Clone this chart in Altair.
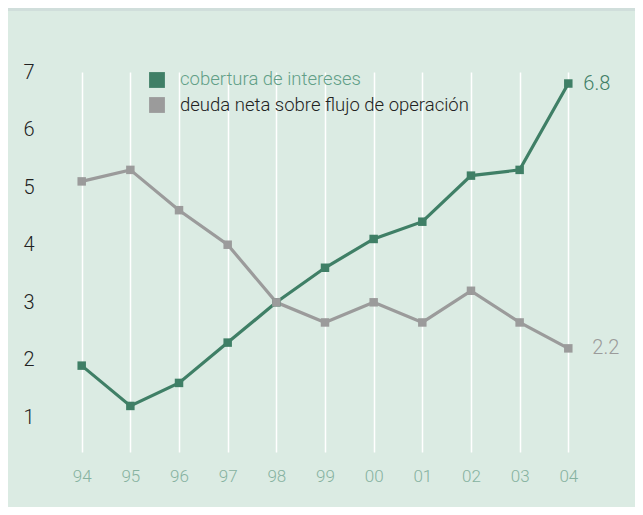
import altair as alt
import pandas as pd

years = ["94", "95", "96", "97", "98", "99", "00", "01", "02", "03", "04"]
cobertura = [1.9, 1.2, 1.6, 2.3, 3.0, 3.6, 4.1, 4.4, 5.2, 5.3, 6.8]
deuda = [5.1, 5.3, 4.6, 4.0, 3.0, 2.65, 3.0, 2.65, 3.2, 2.65, 2.2]
series = ["cobertura de intereses", "deuda neta sobre flujo de operación"]
y_ticks = [1, 2, 3, 4, 5, 6, 7]

GREEN = "#3f7f66"
GREEN_TXT = "#629f87"
GREY = "#9b9b9b"
BG = "#dbebe3"
OUTER = "#d0dedb"
FONT = "Roboto"

rows = []
for y, v in zip(years, cobertura):
    rows.append({"year": y, "serie": series[0], "value": v})
for y, v in zip(years, deuda):
    rows.append({"year": y, "serie": series[1], "value": v})
df = pd.DataFrame(rows)

W, H = 530, 380

color = alt.Color("serie:N", scale=alt.Scale(domain=series, range=[GREEN, GREY]), legend=None)
x = alt.X("year:O", sort=years, title=None,
          scale=alt.Scale(type="point", padding=0.446),
          axis=alt.Axis(grid=True, gridColor="white", gridWidth=1.5, domain=False, ticks=False,
                        labelAngle=0, labelPadding=16, labelColor="#86b2a0", labelFontSize=17,
                        labelFont=FONT, labelFontWeight=300))
y = alt.Y("value:Q", title=None,
          scale=alt.Scale(domain=[0.4, 7], nice=False, zero=False),
          axis=alt.Axis(values=y_ticks, format="d", grid=False, domain=False, ticks=False, labelPadding=26,
                        labelColor="#222222", labelFontSize=20, labelFont=FONT, labelFontWeight=300))

base = alt.Chart(df).encode(x=x, y=y, color=color)
lines = base.mark_line(strokeWidth=3.2)
points = base.mark_square(size=72, opacity=1, filled=True)

lab_green = alt.Chart(df).transform_filter(
    (alt.datum.year == "04") & (alt.datum.serie == series[0])
).mark_text(align="left", baseline="middle", dx=15, fontSize=20, font=FONT, fontWeight=300, color=GREEN).encode(
    x=alt.X("year:O", sort=years), y="value:Q", text=alt.Text("value:Q", format=".1f"))
lab_grey = alt.Chart(df).transform_filter(
    (alt.datum.year == "04") & (alt.datum.serie == series[1])
).mark_text(align="left", baseline="middle", dx=24, fontSize=20, font=FONT, fontWeight=300, color=GREY).encode(
    x=alt.X("year:O", sort=years), y="value:Q", text=alt.Text("value:Q", format=".1f"))

leg_df = pd.DataFrame({"serie": series})
leg_sq1 = alt.Chart(leg_df).transform_filter(alt.datum.serie == series[0]).mark_square(
    size=250, color=GREEN, opacity=1).encode(x=alt.value(97), y=alt.value(8))
leg_sq2 = alt.Chart(leg_df).transform_filter(alt.datum.serie == series[1]).mark_square(
    size=250, color=GREY, opacity=1).encode(x=alt.value(97), y=alt.value(33))
leg_t1 = alt.Chart(leg_df).transform_filter(alt.datum.serie == series[0]).mark_text(
    align="left", baseline="middle", fontSize=18.5, font=FONT, fontWeight=300, color=GREEN_TXT).encode(
    x=alt.value(120), y=alt.value(7), text="serie:N")
leg_t2 = alt.Chart(leg_df).transform_filter(alt.datum.serie == series[1]).mark_text(
    align="left", baseline="middle", fontSize=18.5, font=FONT, fontWeight=300, color="#222222").encode(
    x=alt.value(120), y=alt.value(33), text="serie:N")

strip = alt.Chart(leg_df).transform_filter(alt.datum.serie == series[0]).mark_rect(color=OUTER).encode(
    x=alt.value(-52), x2=alt.value(W + 45), y=alt.value(-64), y2=alt.value(-61))

chart = alt.layer(strip, lines, points, lab_green, lab_grey, leg_sq1, leg_sq2, leg_t1, leg_t2).properties(
    width=W, height=H,
    autosize=alt.AutoSizeParams(type="none"),
    padding={"left": 52, "top": 64, "right": 45, "bottom": 55},
    background=BG,
).configure_view(strokeWidth=0)

chart.save("out.html", embed_options={"renderer": "svg", "actions": False})
